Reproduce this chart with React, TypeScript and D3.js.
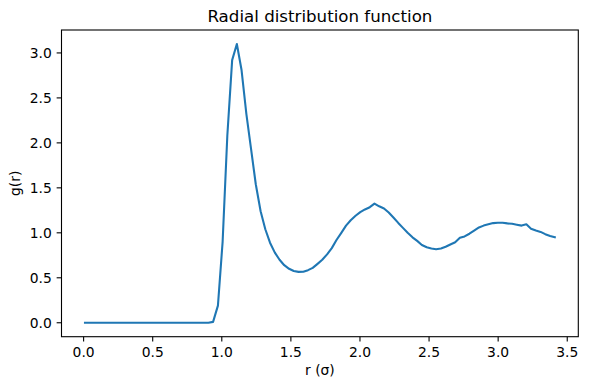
import React from "react";
import * as d3 from "d3";

const rValues: number[] = [
  0.010, 0.044, 0.079, 0.113, 0.147, 0.182, 0.216, 0.250, 0.285, 0.319,
  0.353, 0.388, 0.422, 0.456, 0.491, 0.525, 0.559, 0.594, 0.628, 0.662,
  0.697, 0.731, 0.766, 0.800, 0.834, 0.869, 0.903, 0.937, 0.972, 1.006,
  1.040, 1.075, 1.109, 1.143, 1.178, 1.212, 1.246, 1.281, 1.315, 1.349,
  1.384, 1.418, 1.452, 1.487, 1.521, 1.555, 1.590, 1.624, 1.658, 1.693,
  1.727, 1.762, 1.796, 1.830, 1.865, 1.899, 1.933, 1.968, 2.002, 2.036,
  2.071, 2.105, 2.139, 2.174, 2.208, 2.242, 2.277, 2.311, 2.345, 2.380,
  2.414, 2.448, 2.483, 2.517, 2.551, 2.586, 2.620, 2.654, 2.689, 2.723,
  2.757, 2.792, 2.826, 2.861, 2.895, 2.929, 2.964, 2.998, 3.032, 3.067,
  3.101, 3.135, 3.170, 3.204, 3.238, 3.273, 3.307, 3.341, 3.376, 3.410,
];

const gValues: number[] = [
  0, 0, 0, 0, 0, 0, 0, 0, 0, 0,
  0, 0, 0, 0, 0, 0, 0, 0, 0, 0,
  0, 0, 0, 0, 0, 0, 0, 0.01, 0.19, 0.90,
  2.08, 2.92, 3.10, 2.81, 2.32, 1.93, 1.54, 1.24, 1.04, 0.89,
  0.78, 0.70, 0.64, 0.60, 0.575, 0.566, 0.568, 0.585, 0.61, 0.655,
  0.70, 0.76, 0.83, 0.92, 1.00, 1.08, 1.14, 1.19, 1.23, 1.26,
  1.285, 1.325, 1.295, 1.27, 1.225, 1.17, 1.11, 1.055, 1.00, 0.95,
  0.91, 0.865, 0.84, 0.825, 0.818, 0.825, 0.845, 0.87, 0.895, 0.944,
  0.96, 0.99, 1.025, 1.06, 1.08, 1.095, 1.108, 1.112, 1.112, 1.105,
  1.10, 1.09, 1.08, 1.095, 1.045, 1.025, 1.01, 0.985, 0.965, 0.95,
];

const xTicks: number[] = [0, 0.5, 1.0, 1.5, 2.0, 2.5, 3.0, 3.5];
const yTicks: number[] = [0, 0.5, 1.0, 1.5, 2.0, 2.5, 3.0];

const title = "Radial distribution function";
const xLabel = "r (σ)";
const yLabel = "g(r)";

const W = 589;
const H = 390;
const left = 61.5;
const right = 578.3;
const top = 30;
const bottom = 336.7;
const FONT = "'DejaVu Sans', sans-serif";

export default function App() {
  React.useEffect(() => {
    document.body.style.margin = "0";
  }, []);

  const [xmin, xmax] = d3.extent(rValues) as [number, number];
  const [ymin, ymax] = d3.extent(gValues) as [number, number];
  const xm = (xmax - xmin) * 0.05;
  const ym = (ymax - ymin) * 0.05;

  const x = d3.scaleLinear().domain([xmin - xm, xmax + xm]).range([left, right]);
  const y = d3.scaleLinear().domain([ymin - ym, ymax + ym]).range([bottom, top]);

  const data = rValues.map((r, i) => [r, gValues[i]] as [number, number]);
  const line = d3
    .line<[number, number]>()
    .x((d) => x(d[0]))
    .y((d) => y(d[1]));

  const tickLen = 4.86;

  return (
    <svg
      width={W}
      height={H}
      style={{ position: "absolute", left: 0, top: 0, display: "block", background: "#fff" }}
      fontFamily={FONT}
    >
      <rect x={0} y={0} width={W} height={H} fill="#fff" />
      <path
        d={line(data) || ""}
        fill="none"
        stroke="#1f77b4"
        strokeWidth={2.08}
        strokeLinejoin="round"
        strokeLinecap="square"
      />
      <rect
        x={left}
        y={top}
        width={right - left}
        height={bottom - top}
        fill="none"
        stroke="#000"
        strokeWidth={1.1}
      />
      {xTicks.map((t) => (
        <g key={"x" + t}>
          <line x1={x(t)} x2={x(t)} y1={bottom} y2={bottom + tickLen} stroke="#000" strokeWidth={1.1} />
          <text x={x(t)} y={357.2} fontSize={13.89} textAnchor="middle" fill="#000">
            {t.toFixed(1)}
          </text>
        </g>
      ))}
      {yTicks.map((t) => (
        <g key={"y" + t}>
          <line x1={left - tickLen} x2={left} y1={y(t)} y2={y(t)} stroke="#000" strokeWidth={1.1} />
          <text x={51.8} y={y(t) + 5.05} fontSize={13.89} textAnchor="end" fill="#000">
            {t.toFixed(1)}
          </text>
        </g>
      ))}
      <text x={(left + right) / 2} y={21.7} fontSize={16.67} textAnchor="middle" fill="#000">
        {title}
      </text>
      <text x={(left + right) / 2} y={375.3} fontSize={13.89} textAnchor="middle" fill="#000">
        {xLabel}
      </text>
      <text
        transform={`translate(19.8, ${(top + bottom) / 2}) rotate(-90)`}
        fontSize={13.89}
        textAnchor="middle"
        fill="#000"
      >
        {yLabel}
      </text>
    </svg>
  );
}
